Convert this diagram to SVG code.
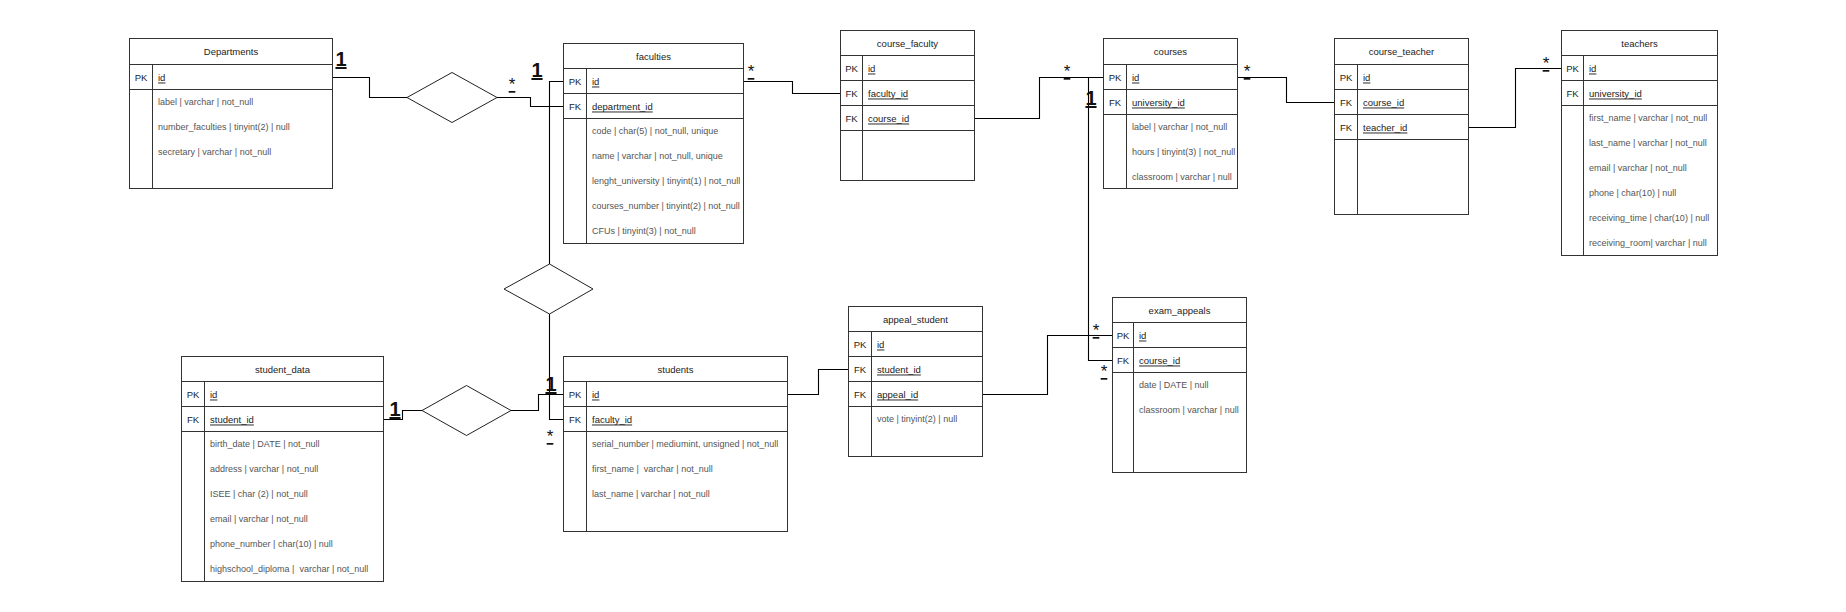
<svg xmlns="http://www.w3.org/2000/svg" width="1846" height="612" viewBox="0 0 1846 612">
<style>
.bg{fill:#fff}
.box{fill:#fff;stroke:#333;stroke-width:1}
.ln{stroke:#333;stroke-width:1;fill:none}
.t{font-family:"Liberation Sans",Arial,sans-serif;font-size:9.5px;fill:#222;text-anchor:middle;dominant-baseline:central}
.k{font-family:"Liberation Sans",Arial,sans-serif;font-size:9.5px;fill:#222;text-anchor:middle;dominant-baseline:central}
.kn{font-family:"Liberation Sans",Arial,sans-serif;font-size:9.5px;fill:#222;text-decoration:underline;dominant-baseline:central}
.f{font-family:"Liberation Sans",Arial,sans-serif;font-size:9px;fill:#555;dominant-baseline:central}
.c{stroke:#000;stroke-width:1.1;fill:none}
.d{fill:#fff;stroke:#222;stroke-width:1}
.one{font-family:"Liberation Sans",Arial,sans-serif;font-size:20px;font-weight:bold;fill:#111;text-anchor:middle;text-decoration:underline}
.st{font-family:"Liberation Sans",Arial,sans-serif;font-size:17px;fill:#111;text-anchor:middle;text-decoration:underline}
</style>
<rect class="bg" x="0" y="0" width="1846" height="612"/>

<g id="connectors">
<path class="c" d="M332.5,77.5 H369.5 V97.5 H407"/>
<path class="c" d="M497,97.5 H530.5 V106.5 H563.5"/>
<path class="c" d="M563.5,81.5 H549.5 V264"/>
<path class="c" d="M549.5,314 V419.5 H563.5"/>
<path class="c" d="M383.5,419.5 H402.5 V410.5 H422"/>
<path class="c" d="M511,410.5 H538.5 V394.5 H563.5"/>
<path class="c" d="M743.5,81.5 H792.5 V93.5 H840.5"/>
<path class="c" d="M974.5,118.5 H1039.5 V77.5 H1103.5"/>
<path class="c" d="M1088.5,77.5 V360.5 H1112.5"/>
<path class="c" d="M1237.5,77.5 H1286.5 V102.5 H1334.5"/>
<path class="c" d="M1468.5,127.5 H1515.5 V68.5 H1561.5"/>
<path class="c" d="M787.5,394.5 H818.5 V369.5 H848.5"/>
<path class="c" d="M982.5,394.5 H1047.5 V335.5 H1112.5"/>
</g>

<g id="rel_departments_faculties"><polygon class="d" points="407,97.5 452,72.5 497,97.5 452,122.5"/></g>
<g id="rel_faculties_students"><polygon class="d" points="549.5,264 593,289 549.5,314 504,289"/></g>
<g id="rel_studentdata_students"><polygon class="d" points="422,410.5 466.5,385.5 511,410.5 466.5,435.5"/></g>

<g id="labels">
<text class="one" x="341" y="66">1</text>
<text class="st" x="512" y="90">*</text>
<text class="one" x="537" y="77">1</text>
<text class="st" x="751" y="77">*</text>
<text class="st" x="1067" y="77">*</text>
<text class="one" x="1091" y="105">1</text>
<text class="st" x="1247" y="77">*</text>
<text class="st" x="1546" y="69">*</text>
<text class="st" x="1096" y="336">*</text>
<text class="st" x="1104" y="377">*</text>
<text class="one" x="395" y="416">1</text>
<text class="one" x="551" y="391">1</text>
<text class="st" x="550" y="442">*</text>
<text class="st" x="730" y="390">*</text>
</g>

<g id="departments">
<rect class="box" x="129.5" y="38.5" width="203" height="150"/>
<path class="ln" d="M129.5,64.5 H332.5 M129.5,89.5 H332.5 M152.5,64.5 V188.5"/>
<text class="t" x="231" y="51.5">Departments</text>
<text class="k" x="141" y="77">PK</text>
<text class="kn" x="158" y="77">id</text>
<text class="f" x="158" y="102">label | varchar | not_null</text>
<text class="f" x="158" y="127">number_faculties | tinyint(2) | null</text>
<text class="f" x="158" y="152">secretary | varchar | not_null</text>
</g>

<g id="faculties">
<rect class="box" x="563.5" y="43.5" width="180" height="200"/>
<path class="ln" d="M563.5,68.5 H743.5 M563.5,93.5 H743.5 M563.5,118.5 H743.5 M586.5,68.5 V243.5"/>
<text class="t" x="653.5" y="56">faculties</text>
<text class="k" x="575" y="81">PK</text>
<text class="kn" x="592" y="81">id</text>
<text class="k" x="575" y="106">FK</text>
<text class="kn" x="592" y="106">department_id</text>
<text class="f" x="592" y="131">code | char(5) | not_null, unique</text>
<text class="f" x="592" y="156">name | varchar | not_null, unique</text>
<text class="f" x="592" y="181">lenght_university | tinyint(1) | not_null</text>
<text class="f" x="592" y="206">courses_number | tinyint(2) | not_null</text>
<text class="f" x="592" y="231">CFUs | tinyint(3) | not_null</text>
</g>

<g id="course_faculty">
<rect class="box" x="840.5" y="30.5" width="134" height="150"/>
<path class="ln" d="M840.5,55.5 H974.5 M840.5,80.5 H974.5 M840.5,105.5 H974.5 M840.5,130.5 H974.5 M862.5,55.5 V180.5"/>
<text class="t" x="907.5" y="43">course_faculty</text>
<text class="k" x="851.5" y="68">PK</text>
<text class="kn" x="868" y="68">id</text>
<text class="k" x="851.5" y="93">FK</text>
<text class="kn" x="868" y="93">faculty_id</text>
<text class="k" x="851.5" y="118">FK</text>
<text class="kn" x="868" y="118">course_id</text>
</g>

<g id="courses">
<rect class="box" x="1103.5" y="38.5" width="134" height="150"/>
<path class="ln" d="M1103.5,64.5 H1237.5 M1103.5,89.5 H1237.5 M1103.5,114.5 H1237.5 M1126.5,64.5 V188.5"/>
<text class="t" x="1170.5" y="51.5">courses</text>
<text class="k" x="1115" y="77">PK</text>
<text class="kn" x="1132" y="77">id</text>
<text class="k" x="1115" y="102">FK</text>
<text class="kn" x="1132" y="102">university_id</text>
<text class="f" x="1132" y="127">label | varchar | not_null</text>
<text class="f" x="1132" y="152">hours | tinyint(3) | not_null</text>
<text class="f" x="1132" y="177">classroom | varchar | null</text>
</g>

<g id="course_teacher">
<rect class="box" x="1334.5" y="38.5" width="134" height="176"/>
<path class="ln" d="M1334.5,64.5 H1468.5 M1334.5,89.5 H1468.5 M1334.5,114.5 H1468.5 M1334.5,139.5 H1468.5 M1357.5,64.5 V214.5"/>
<text class="t" x="1401.5" y="51.5">course_teacher</text>
<text class="k" x="1346" y="77">PK</text>
<text class="kn" x="1363" y="77">id</text>
<text class="k" x="1346" y="102">FK</text>
<text class="kn" x="1363" y="102">course_id</text>
<text class="k" x="1346" y="127">FK</text>
<text class="kn" x="1363" y="127">teacher_id</text>
</g>

<g id="teachers">
<rect class="box" x="1561.5" y="30.5" width="156" height="225"/>
<path class="ln" d="M1561.5,55.5 H1717.5 M1561.5,80.5 H1717.5 M1561.5,105.5 H1717.5 M1583.5,55.5 V255.5"/>
<text class="t" x="1639.5" y="43">teachers</text>
<text class="k" x="1572.5" y="68">PK</text>
<text class="kn" x="1589" y="68">id</text>
<text class="k" x="1572.5" y="93">FK</text>
<text class="kn" x="1589" y="93">university_id</text>
<text class="f" x="1589" y="118">first_name | varchar | not_null</text>
<text class="f" x="1589" y="143">last_name | varchar | not_null</text>
<text class="f" x="1589" y="168">email | varchar | not_null</text>
<text class="f" x="1589" y="193">phone | char(10) | null</text>
<text class="f" x="1589" y="218">receiving_time | char(10) | null</text>
<text class="f" x="1589" y="243">receiving_room| varchar | null</text>
</g>

<g id="student_data">
<rect class="box" x="181.5" y="356.5" width="202" height="225"/>
<path class="ln" d="M181.5,381.5 H383.5 M181.5,406.5 H383.5 M181.5,431.5 H383.5 M204.5,381.5 V581.5"/>
<text class="t" x="282.5" y="369">student_data</text>
<text class="k" x="193" y="394">PK</text>
<text class="kn" x="210" y="394">id</text>
<text class="k" x="193" y="419">FK</text>
<text class="kn" x="210" y="419">student_id</text>
<text class="f" x="210" y="444">birth_date | DATE | not_null</text>
<text class="f" x="210" y="469">address | varchar | not_null</text>
<text class="f" x="210" y="494">ISEE | char (2) | not_null</text>
<text class="f" x="210" y="519">email | varchar | not_null</text>
<text class="f" x="210" y="544">phone_number | char(10) | null</text>
<text class="f" x="210" y="569" xml:space="preserve">highschool_diploma |  varchar | not_null</text>
</g>

<g id="students">
<rect class="box" x="563.5" y="356.5" width="224" height="175"/>
<path class="ln" d="M563.5,381.5 H787.5 M563.5,406.5 H787.5 M563.5,431.5 H787.5 M586.5,381.5 V531.5"/>
<text class="t" x="675.5" y="369">students</text>
<text class="k" x="575" y="394">PK</text>
<text class="kn" x="592" y="394">id</text>
<text class="k" x="575" y="419">FK</text>
<text class="kn" x="592" y="419">faculty_id</text>
<text class="f" x="592" y="444">serial_number | mediumint, unsigned | not_null</text>
<text class="f" x="592" y="469" xml:space="preserve">first_name |  varchar | not_null</text>
<text class="f" x="592" y="494">last_name | varchar | not_null</text>
</g>

<g id="appeal_student">
<rect class="box" x="848.5" y="306.5" width="134" height="150"/>
<path class="ln" d="M848.5,331.5 H982.5 M848.5,356.5 H982.5 M848.5,381.5 H982.5 M848.5,406.5 H982.5 M871.5,331.5 V456.5"/>
<text class="t" x="915.5" y="319">appeal_student</text>
<text class="k" x="860" y="344">PK</text>
<text class="kn" x="877" y="344">id</text>
<text class="k" x="860" y="369">FK</text>
<text class="kn" x="877" y="369">student_id</text>
<text class="k" x="860" y="394">FK</text>
<text class="kn" x="877" y="394">appeal_id</text>
<text class="f" x="877" y="419">vote | tinyint(2) | null</text>
</g>

<g id="exam_appeals">
<rect class="box" x="1112.5" y="297.5" width="134" height="175"/>
<path class="ln" d="M1112.5,322.5 H1246.5 M1112.5,347.5 H1246.5 M1112.5,372.5 H1246.5 M1133.5,322.5 V472.5"/>
<text class="t" x="1179.5" y="310">exam_appeals</text>
<text class="k" x="1123" y="335">PK</text>
<text class="kn" x="1139" y="335">id</text>
<text class="k" x="1123" y="360">FK</text>
<text class="kn" x="1139" y="360">course_id</text>
<text class="f" x="1139" y="385">date | DATE | null</text>
<text class="f" x="1139" y="410">classroom | varchar | null</text>
</g>
</svg>
